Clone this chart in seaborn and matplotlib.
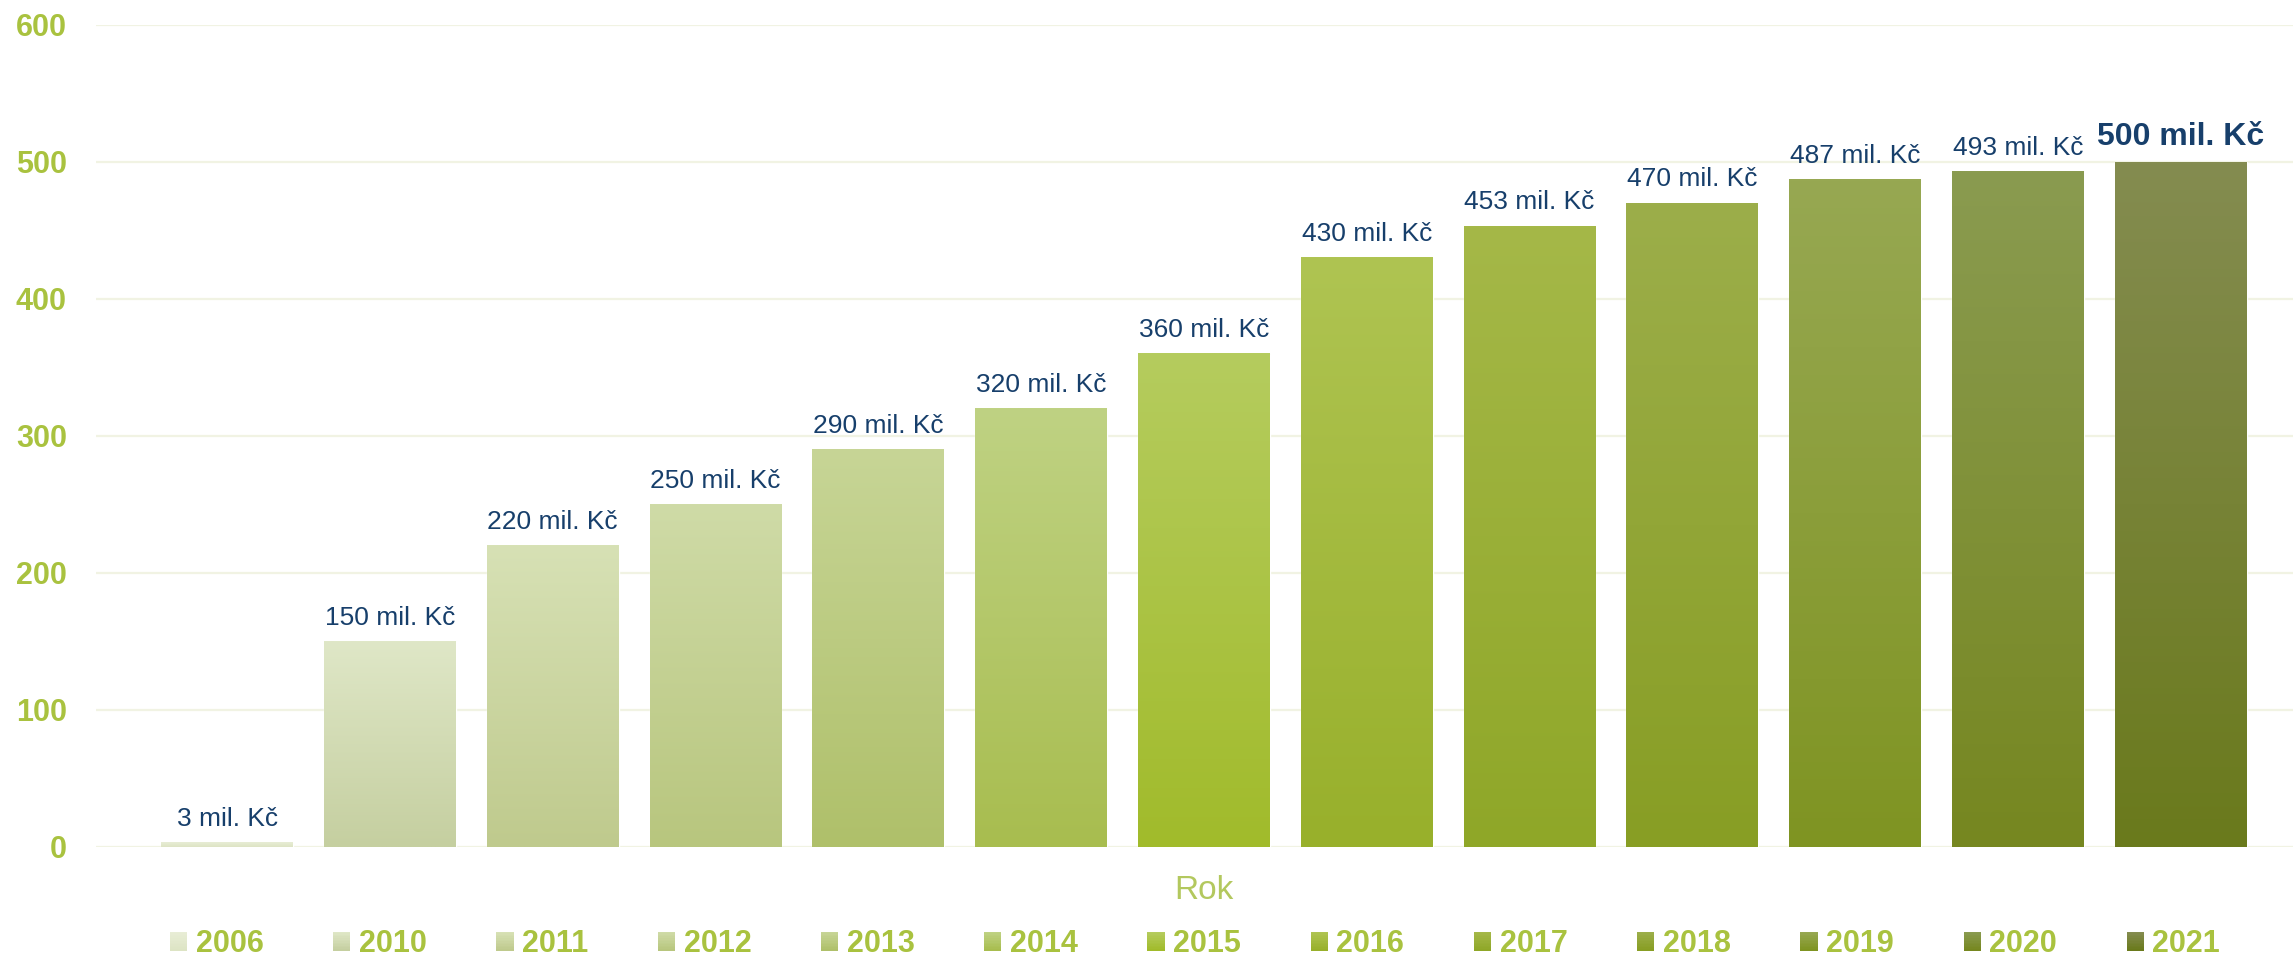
import numpy as np
import pandas as pd
import matplotlib
matplotlib.use("Agg")
import matplotlib.pyplot as plt
import matplotlib.colors as mcolors
from matplotlib.patches import Patch, Rectangle
from matplotlib.legend_handler import HandlerBase
import seaborn as sns

# Data
years = ["2006", "2010", "2011", "2012", "2013", "2014", "2015",
         "2016", "2017", "2018", "2019", "2020", "2021"]
values = [3, 150, 220, 250, 290, 320, 360, 430, 453, 470, 487, 493, 500]
labels = [f"{v} mil. Kč" for v in values]

# gradient colours per bar (top -> bottom)
top_colors = ["#e8edd6", "#dfe7c7", "#d7e1b5", "#cfdba7", "#c7d596", "#bfd283",
              "#b5cc5e", "#afc452", "#a5b848", "#9cae4a", "#97a852", "#8a9b50", "#848c50"]
bottom_colors = ["#dde4c4", "#c5cfa0", "#bfca8d", "#b8c67e", "#afc06a", "#a8bd4f",
                 "#a1bb2b", "#98b02b", "#8fa728", "#889e24", "#7f9422", "#768720", "#6a7a1c"]

GREEN = "#a9c23f"
NAVY = "#173f6b"
GRID = "#f1f3e3"

df = pd.DataFrame({"rok": years, "castka": values})

sns.set_theme(style="white")
plt.rcParams["font.family"] = ["Liberation Sans", "DejaVu Sans"]

W, H = 2293, 959
fig = plt.figure(figsize=(W / 100, H / 100), dpi=100)
ax = fig.add_axes([96 / W, 1 - 846.7 / H, 1 - 96 / W, (846.7 - 24.7) / H])

sns.barplot(data=df, x="rok", y="castka", hue="rok",
            palette=dict(zip(years, bottom_colors)), width=0.81,
            legend=False, ax=ax, saturation=1)


def mix(c1, c2, t):
    a = np.array(mcolors.to_rgb(c1))
    b = np.array(mcolors.to_rgb(c2))
    return a + (b - a) * t


# vertical gradient over every bar
for patch, ct, cb in zip(ax.patches, top_colors, bottom_colors):
    x0, y0 = patch.get_x(), patch.get_y()
    w, h = patch.get_width(), patch.get_height()
    t = np.linspace(0, 1, 200)
    grad = np.array([mix(ct, cb, tt) for tt in t])[:, None, :]
    ax.imshow(grad, extent=[x0, x0 + w, y0, y0 + h], origin="upper",
              aspect="auto", zorder=patch.get_zorder() + 0.1, interpolation="bilinear")

# value labels
for i, (v, lab) in enumerate(zip(values, labels)):
    last = i == len(values) - 1
    ax.annotate(lab, (i, v), xytext=(0, 12), textcoords="offset points",
                ha="center", va="baseline", color=NAVY,
                fontsize=23 if last else 19, fontweight="bold" if last else "normal")

ax.set_xlim(-0.805, 12.69)
ax.set_ylim(0, 600)
ax.set_yticks(range(0, 601, 100))
ax.set_xticks([])
ax.yaxis.grid(True, color=GRID, linewidth=1.6)
ax.set_axisbelow(True)
sns.despine(ax=ax, left=True, bottom=True)
ax.tick_params(axis="y", length=0, pad=21, labelsize=22, labelcolor=GREEN)
for t in ax.get_yticklabels():
    t.set_fontweight("bold")
ax.set_ylabel("")
ax.set_xlabel("Rok", fontsize=24, color="#b3c85e")
ax.xaxis.set_label_coords((1204 - 96) / (W - 96), -0.035)


class GradientHandler(HandlerBase):
    def create_artists(self, legend, orig_handle, xdescent, ydescent,
                       width, height, fontsize, trans):
        ct, cb = orig_handle.grad
        n = 12
        arts = []
        for k in range(n):
            c = mix(ct, cb, k / (n - 1))
            arts.append(Rectangle((-xdescent, -ydescent + height * (1 - (k + 1) / n)),
                                  width, height / n * 1.05, facecolor=c,
                                  edgecolor="none", transform=trans))
        return arts


handles = []
for y, ct, cb in zip(years, top_colors, bottom_colors):
    p = Patch(label=y)
    p.grad = (ct, cb)
    handles.append(p)

leg = fig.legend(handles=handles, handler_map={Patch: GradientHandler()},
                 loc="center", bbox_to_anchor=(1195 / W, 1 - 944 / H), ncol=13,
                 frameon=False, fontsize=22, handlelength=0.56, handleheight=0.56,
                 handletextpad=0.28, columnspacing=2.28, borderaxespad=0, borderpad=0)
for t in leg.get_texts():
    t.set_color(GREEN)
    t.set_fontweight("bold")

fig.savefig("out.png", dpi=100)
